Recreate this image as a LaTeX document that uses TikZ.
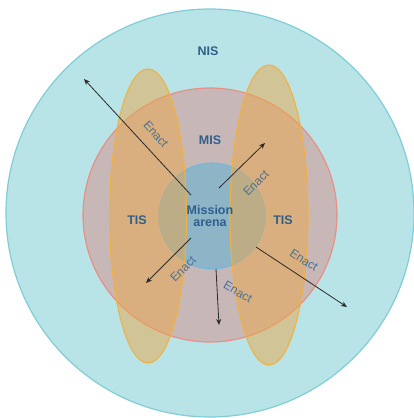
\documentclass[tikz,border=0pt]{standalone}
\usepackage{fontspec}
\setmainfont{Liberation Sans}
\usetikzlibrary{arrows.meta}
\definecolor{nisfill}{HTML}{B8E4E8}
\definecolor{nisline}{HTML}{80CDD6}
\definecolor{misfill}{HTML}{D68E88}
\definecolor{misline}{HTML}{EC8A7E}
\definecolor{arenafill}{HTML}{57B1DA}
\definecolor{arenaline}{HTML}{6BB8E2}
\definecolor{tisfill}{HTML}{EBA748}
\definecolor{tisline}{HTML}{F2B040}
\definecolor{labelblue}{HTML}{2F5F8A}
\definecolor{enactblue}{HTML}{4D7194}
\definecolor{arrowgray}{HTML}{2A2A2A}
\begin{document}
\begin{tikzpicture}[x=1pt,y=-1pt,
  ringline/.style={line width=1.2pt},
  region/.style={font=\bfseries\fontsize{12.5}{14}\selectfont,text=labelblue,align=center,inner sep=1pt},
  enactlbl/.style={font=\fontsize{12}{13}\selectfont,text=enactblue,inner sep=0pt},
  enactarrow/.style={draw=arrowgray,line width=0.8pt,-{Stealth[length=6pt,width=5pt]}}
]
\useasboundingbox (0,0) rectangle (414,418);
% centres
\coordinate (nis) at (210,213);
\coordinate (mis) at (210,215);
\coordinate (arena) at (212,216);
\coordinate (tisL) at (148,216);
\coordinate (tisR) at (269,215);
% NIS
\draw[ringline,fill=nisfill,draw=nisline] (nis) circle [radius=204];
% MIS
\draw[ringline,fill=misfill,fill opacity=0.5,draw=misline,draw opacity=0.9] (mis) circle [radius=127];
% Mission arena
\draw[ringline,fill=arenafill,fill opacity=0.5,draw=arenaline,draw opacity=0.8] (arena) circle [radius=53];
% TIS ellipses
\draw[ringline,fill=tisfill,fill opacity=0.5,draw=tisline,draw opacity=0.9] (tisL) ellipse [x radius=38.5, y radius=147];
\draw[ringline,fill=tisfill,fill opacity=0.5,draw=tisline,draw opacity=0.9] (tisR) ellipse [x radius=39, y radius=150];
% labels
\node[region] (nisl) at (208,51) {NIS};
\node[region] (misl) at (210,140) {MIS};
\node[region] (tisll) at (137,220) {TIS};
\node[region] (tisrl) at (283,220) {TIS};
\node[region] (arenal) at (210,216) {Mission\\[-1.5pt]arena};
% arrows
\coordinate (s1) at (191,195); \coordinate (e1) at (84,79);
\coordinate (s2) at (219,188); \coordinate (e2) at (265,143);
\coordinate (s3) at (191,238); \coordinate (e3) at (146,283);
\coordinate (s4) at (216,269); \coordinate (e4) at (219,325);
\coordinate (s5) at (256,247); \coordinate (e5) at (347,307);
\draw[enactarrow] (s1) -- (e1);
\draw[enactarrow] (s2) -- (e2);
\draw[enactarrow] (s3) -- (e3);
\draw[enactarrow] (s4) -- (e4);
\draw[enactarrow] (s5) -- (e5);
\node[enactlbl,rotate=-49] (en1) at (156,134) {Enact};
\node[enactlbl,rotate=45] (en2) at (256,183) {Enact};
\node[enactlbl,rotate=45] (en3) at (183,269) {Enact};
\node[enactlbl,rotate=-30] (en4) at (238,292) {Enact};
\node[enactlbl,rotate=-33] (en5) at (304,260) {Enact};
\end{tikzpicture}
\end{document}
